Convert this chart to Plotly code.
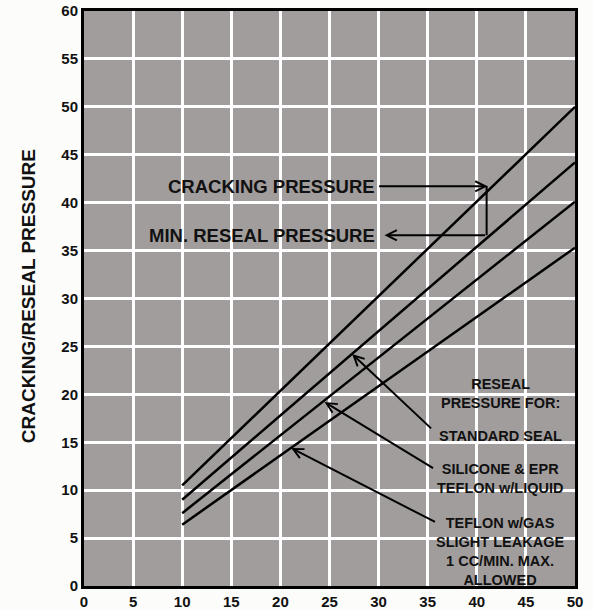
import plotly.graph_objects as go

# ---- data ----
line_x = [10, 50]
cracking = [10.5, 50.0]
standard_seal = [9.0, 44.2]
silicone_epr = [7.6, 40.1]
teflon_gas = [6.4, 35.3]

x_ticks = [0, 5, 10, 15, 20, 25, 30, 35, 40, 45, 50]
y_ticks = [0, 5, 10, 15, 20, 25, 30, 35, 40, 45, 50, 55, 60]

FONT = "Liberation Sans, Arial, Helvetica, sans-serif"
BG = "#a19d9d"

fig = go.Figure()
for name, ys in [("Cracking pressure", cracking),
                 ("Standard seal", standard_seal),
                 ("Silicone & EPR / Teflon w/liquid", silicone_epr),
                 ("Teflon w/gas", teflon_gas)]:
    fig.add_trace(go.Scatter(x=line_x, y=ys, mode="lines", name=name,
                             line=dict(color="black", width=2.5),
                             showlegend=False, hoverinfo="skip"))

annotations = []

def arrow(tail, tip, head=5):
    annotations.append(dict(x=tip[0], y=tip[1], ax=tail[0], ay=tail[1],
                            xref="x", yref="y", axref="x", ayref="y",
                            text="", showarrow=True, arrowhead=head,
                            arrowsize=1.0, arrowwidth=2, arrowcolor="black",
                            standoff=0, startstandoff=0))

# cracking / reseal bracket
arrow((29.9, 41.7), (41.1, 41.7))
arrow((41.0, 36.6), (30.6, 36.6))
fig.add_shape(type="line", x0=41.0, x1=41.0, y0=36.6, y1=41.75,
              xref="x", yref="y", line=dict(color="black", width=2))

annotations.append(dict(x=19.1, y=41.7, xref="x", yref="y", text="CRACKING PRESSURE",
                        showarrow=False, font=dict(family=FONT, size=18.5, color="#111", weight="bold")))
annotations.append(dict(x=18.1, y=36.6, xref="x", yref="y", text="MIN. RESEAL PRESSURE",
                        showarrow=False, font=dict(family=FONT, size=18.5, color="#111", weight="bold")))

# right-hand labels
rfont = dict(family=FONT, size=14.5, color="#111", weight="bold")
for txt, yy in [("RESEAL<br>PRESSURE FOR:", 20.1),
                ("STANDARD SEAL", 15.7),
                ("SILICONE &amp; EPR<br>TEFLON w/LIQUID", 11.2),
                ("TEFLON w/GAS<br>SLIGHT LEAKAGE<br>1 CC/MIN. MAX.<br>ALLOWED", 3.65)]:
    annotations.append(dict(x=42.4, y=yy, xref="x", yref="y", text=txt,
                            showarrow=False, align="center", font=rfont))

arrow((35.5, 16.3), (27.3, 24.2))
arrow((35.7, 12.2), (24.5, 19.2))
arrow((35.9, 6.6), (21.1, 14.4))

# y-axis title
annotations.append(dict(x=-0.114, y=0.504, xref="paper", yref="paper",
                        xanchor="center", yanchor="middle",
                        text="CRACKING/RESEAL PRESSURE", textangle=-90, showarrow=False,
                        font=dict(family=FONT, size=19, color="#111", weight="bold")))

fig.update_layout(
    width=593, height=610,
    margin=dict(l=84, r=18, t=11, b=24),
    paper_bgcolor="#fcfcfa",
    plot_bgcolor=BG,
    annotations=annotations,
    showlegend=False,
)
axis_common = dict(showgrid=True, gridcolor="white", gridwidth=2.5,
                   showline=True, linecolor="black", linewidth=3, mirror=True,
                   zeroline=False, ticks="", ticklen=0, automargin=False,
                   tickfont=dict(family=FONT, size=15, color="#111", weight="bold"))
fig.update_xaxes(range=[0, 50], tickvals=x_ticks, ticktext=[str(v) for v in x_ticks], **axis_common)
fig.update_yaxes(range=[0, 60], tickvals=y_ticks, ticktext=[str(v) for v in y_ticks], **axis_common)

fig.write_html("out.html", config={"displayModeBar": False},
               post_script="document.body.style.margin='0';document.body.style.overflow='hidden';")
